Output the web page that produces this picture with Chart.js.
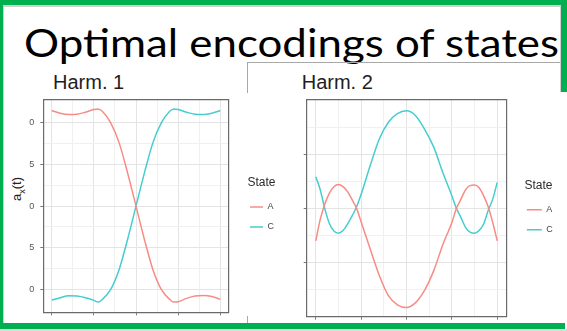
<!DOCTYPE html>
<html><head><meta charset="utf-8">
<script src="https://cdn.jsdelivr.net/npm/chart.js@4.4.1/dist/chart.umd.min.js"></script>
<style>
html,body{margin:0;padding:0;background:#fff;}
#slide{position:relative;width:567px;height:331px;overflow:hidden;background:#fff;font-family:'Liberation Sans',Arial,sans-serif;}
.abs{position:absolute;}
.harm{font-size:20px;line-height:1;color:#1e1e1e;white-space:nowrap;}
.green{position:absolute;background:#00B050;z-index:10;}
.gl{position:absolute;background:#cfcfcf;z-index:9;}
canvas{display:block;}
</style></head><body>
<div id="slide">
  <div class="abs" id="title" style="left:24px;top:22px;font-family:Lato,'Open Sans',sans-serif;font-size:39.6px;line-height:1;white-space:nowrap;transform-origin:0 0;color:#000">Optimal encodings of states</div>
  <div class="abs" style="left:247px;top:62px;width:313px;height:1px;background:#a8a8a8"></div>
  <div class="abs" style="left:247px;top:62px;width:1px;height:31px;background:#a8a8a8"></div>
  <div class="abs" style="left:247px;top:316px;width:1px;height:7px;background:#a8a8a8"></div>
  <div class="abs harm" style="left:53px;top:72.4px">Harm. 1</div>
  <div class="abs harm" style="left:301.7px;top:72.4px">Harm. 2</div>
  <div class="abs" style="left:18px;top:189px;transform:translate(-50%,-50%) rotate(-90deg);font-size:13px;color:#222;white-space:nowrap">a<sub style="font-size:9px">x</sub>(t)</div>
  <div class="abs" style="left:0;top:60px"><canvas id="c1" width="284" height="271"></canvas></div>
  <div class="abs" style="left:290px;top:60px"><canvas id="c2" width="271" height="271"></canvas></div>
  <div class="gl" style="left:3px;top:5px;width:557px;height:1.5px"></div>
  <div class="gl" style="left:3px;top:5px;width:1px;height:318px"></div>
  <div class="gl" style="left:559.5px;top:5px;width:1.2px;height:87px"></div>
  <div class="green" style="left:0;top:0;width:567px;height:5px"></div>
  <div class="green" style="left:0;top:0;width:3px;height:329px"></div>
  <div class="green" style="left:561px;top:0;width:6px;height:92px"></div>
  <div class="green" style="left:0;top:323px;width:565px;height:6px"></div>
  <div class="abs" style="left:0;top:329px;width:567px;height:2px;background:#dcdcdc;z-index:10"></div>
</div>
<script>
// ---- data ----
const states = ['A', 'C'];
const stateColors = ['#F78C85', '#45CDD0'];

// Harm. 1
const tH1 = [0,0.05,0.1,0.15,0.2,0.25,0.275,0.3,0.35,0.4,0.45,0.5,0.55,0.6,0.65,0.7,0.725,0.75,0.8,0.85,0.9,0.95,1];
const aH1 = [1.148,1.116,1.100,1.104,1.128,1.160,1.168,1.140,1.000,0.760,0.400,0.000,-0.400,-0.760,-1.000,-1.120,-1.152,-1.148,-1.108,-1.080,-1.072,-1.084,-1.120];
const cH1 = [-1.128,-1.100,-1.076,-1.080,-1.100,-1.132,-1.152,-1.120,-1.000,-0.760,-0.400,0.000,0.400,0.760,1.000,1.140,1.168,1.160,1.128,1.104,1.100,1.116,1.148];
const h1TickValues = [1, 0.5, 0, -0.5, -1];
const h1TickLabels = ['0', '5', '0', '5', '0'];

// Harm. 2
const tH2 = [0,0.025,0.05,0.075,0.1,0.125,0.15,0.175,0.2,0.225,0.25,0.3,0.35,0.4,0.45,0.5,0.55,0.6,0.65,0.7,0.75,0.775,0.8,0.825,0.85,0.875,0.9,0.925,0.95,0.975,1];
const aH2 = [-0.60,-0.20,0.08,0.28,0.40,0.44,0.40,0.31,0.16,0.00,-0.25,-0.75,-1.24,-1.61,-1.78,-1.83,-1.74,-1.51,-1.15,-0.67,-0.26,0.00,0.17,0.34,0.42,0.43,0.38,0.23,0.03,-0.26,-0.60];
const cH2 = [0.585,0.34,-0.01,-0.28,-0.42,-0.46,-0.41,-0.29,-0.14,0.03,0.26,0.79,1.28,1.59,1.75,1.80,1.71,1.46,1.13,0.66,0.23,0.00,-0.17,-0.35,-0.44,-0.46,-0.41,-0.29,-0.04,0.17,0.48];

// ---- drawing ----
const FONT = "'Liberation Sans', Arial, sans-serif";
const BORDER = '#6a6a6a';
const isMult = (v, s) => Math.abs(v / s - Math.round(v / s)) < 1e-6;
const pts = (t, v) => t.map((x, i) => ({x: x, y: v[i]}));

function makeChart(id, t, a, c, cfg) {
  const ds = (i, v) => ({
    label: states[i], data: pts(t, v), borderColor: stateColors[i], backgroundColor: stateColors[i],
    borderWidth: 1.5, pointRadius: 0, cubicInterpolationMode: 'monotone', fill: false
  });
  return new Chart(document.getElementById(id), {
    type: 'line',
    data: {datasets: [ds(0, a), ds(1, c)]},
    options: {
      responsive: false, animation: false, devicePixelRatio: 1,
      layout: {padding: {top: cfg.padTop, left: 0, right: 0, bottom: 0}},
      plugins: {
        legend: {
          position: 'right', align: 'center',
          title: {display: true, text: 'State', position: 'center', color: '#2b2b2b', font: {family: FONT, size: 12}, padding: 0},
          labels: {usePointStyle: true, pointStyle: 'line', pointStyleWidth: cfg.sw, boxHeight: 9, padding: 11, color: '#444', font: {family: FONT, size: 9}}
        },
        tooltip: {enabled: false}
      },
      scales: {
        x: {
          type: 'linear', position: 'bottom', min: -0.05, max: 1.05,
          ticks: {stepSize: 0.125, includeBounds: false, display: false},
          grid: {
            color: ctx => isMult(ctx.tick.value, 0.25) ? '#e4e4e4' : '#f0f0f0',
            lineWidth: 1, tickLength: 3,
            tickColor: ctx => isMult(ctx.tick.value, 0.25) ? '#777' : 'rgba(0,0,0,0)'
          },
          border: {display: true, color: BORDER, width: 1.2},
          afterFit: s => { s.height = cfg.xH; }
        },
        y: {
          type: 'linear', position: 'left', min: cfg.yMin, max: cfg.yMax,
          ticks: {
            stepSize: cfg.yStep / 2, includeBounds: false, autoSkip: false,
            display: cfg.yLabels, padding: 6, color: '#555', font: {family: FONT, size: 9},
            callback: v => {
              const i = h1TickValues.findIndex(u => Math.abs(u - v) < 1e-6);
              return i >= 0 ? h1TickLabels[i] : '';
            }
          },
          grid: {
            color: ctx => Math.abs(ctx.tick.value) > cfg.yGridMax + 1e-6 ? 'rgba(0,0,0,0)' :
              (isMult(ctx.tick.value, cfg.yStep) ? '#e4e4e4' : '#f0f0f0'),
            lineWidth: 1, tickLength: 3,
            tickColor: ctx => (isMult(ctx.tick.value, cfg.yStep) && Math.abs(ctx.tick.value) <= cfg.yTickMax + 1e-6) ? '#777' : 'rgba(0,0,0,0)'
          },
          border: {display: true, color: BORDER, width: 1.2},
          afterFit: s => { s.width = cfg.yW; }
        },
        x2: {
          type: 'linear', position: 'top', display: true,
          ticks: {display: false}, grid: {display: false},
          border: {display: true, color: BORDER, width: 1.2},
          afterFit: s => { s.height = cfg.x2H; }
        },
        y2: {
          type: 'linear', position: 'right', display: true,
          ticks: {display: false}, grid: {display: false},
          border: {display: true, color: BORDER, width: 1.2},
          afterFit: s => { s.width = cfg.y2W; }
        }
      }
    }
  });
}

makeChart('c1', tH1, aH1, cH1, {
  padTop: 28.6, x2H: 11.4, xH: 18.7, yW: 43.3, y2W: 10.3, sw: 13,
  yMin: -1.275, yMax: 1.275, yStep: 0.5, yGridMax: 1, yTickMax: 1, yLabels: true
});
makeChart('c2', tH2, aH2, cH2, {
  padTop: 34, x2H: 6, xH: 14.3, yW: 16.7, y2W: 9.5, sw: 15,
  yMin: -2, yMax: 2, yStep: 1, yGridMax: 1.5, yTickMax: 1, yLabels: false
});

// fit slide title width
const tEl = document.getElementById('title');
const w = tEl.getBoundingClientRect().width;
tEl.style.transform = 'scaleX(' + (535 / w) + ')';
</script>
</body></html>
